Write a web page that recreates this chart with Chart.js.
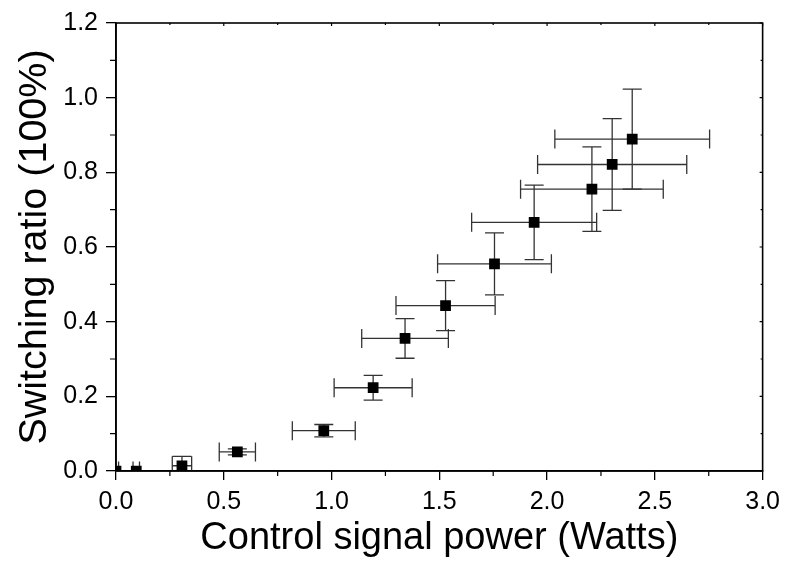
<!DOCTYPE html>
<html>
<head>
<meta charset="utf-8">
<script src="https://cdn.jsdelivr.net/npm/chart.js@4/dist/chart.umd.min.js"></script>
<style>
  html, body { margin: 0; padding: 0; background: #fff; }
  #wrap { width: 787px; height: 563px; position: relative; }
</style>
</head>
<body>
<div id="wrap"><canvas id="c" width="787" height="563"></canvas></div>
<script>
// Data
const powerW      = [0, 0.094, 0.306, 0.563, 0.964, 1.193, 1.341, 1.529, 1.756, 1.940, 2.208, 2.302, 2.395];
const switchRatio = [0, 0, 0.014, 0.051, 0.108, 0.223, 0.355, 0.443, 0.555, 0.666, 0.755, 0.821, 0.889];
const powerErr    = [0.012, 0.015, 0.045, 0.084, 0.146, 0.181, 0.201, 0.230, 0.264, 0.290, 0.331, 0.346, 0.359];
const ratioErr    = [0, 0, 0.025, 0.008, 0.0165, 0.033, 0.053, 0.067, 0.083, 0.100, 0.113, 0.123, 0.134];
const xTitle = 'Control signal power (Watts)';
const yTitle = 'Switching ratio (100%)';

const points = powerW.map((x, i) => ({ x: x, y: switchRatio[i] }));
const FONT = '"Liberation Sans", Arial, Helvetica, sans-serif';

const errorBarPlugin = {
  id: 'errorBars',
  beforeDatasetsDraw(chart) {
    const { ctx, chartArea: a, scales: { x, y } } = chart;
    const cap = 9.5;
    ctx.save();
    ctx.beginPath();
    ctx.rect(a.left, a.top, a.right - a.left, a.bottom - a.top);
    ctx.clip();
    ctx.strokeStyle = '#333';
    ctx.lineWidth = 1.3;
    powerW.forEach((v, i) => {
      const px = x.getPixelForValue(v);
      const py = y.getPixelForValue(switchRatio[i]);
      const xl = x.getPixelForValue(v - powerErr[i]);
      const xr = x.getPixelForValue(v + powerErr[i]);
      const yt = y.getPixelForValue(switchRatio[i] + ratioErr[i]);
      const yb = y.getPixelForValue(switchRatio[i] - ratioErr[i]);
      ctx.beginPath();
      ctx.moveTo(xl, py); ctx.lineTo(xr, py);
      ctx.moveTo(xl, py - cap); ctx.lineTo(xl, py + cap);
      ctx.moveTo(xr, py - cap); ctx.lineTo(xr, py + cap);
      if (ratioErr[i] > 0) {
        ctx.moveTo(px, yt); ctx.lineTo(px, yb);
        ctx.moveTo(px - cap, yt); ctx.lineTo(px + cap, yt);
        ctx.moveTo(px - cap, yb); ctx.lineTo(px + cap, yb);
      }
      ctx.stroke();
    });
    ctx.restore();
  }
};

const framePlugin = {
  id: 'frame',
  afterDraw(chart) {
    const { ctx, chartArea: a, scales: { x, y } } = chart;
    ctx.save();
    ctx.strokeStyle = '#000';
    ctx.lineWidth = 1.6;
    ctx.strokeRect(a.left, a.top, a.right - a.left, a.bottom - a.top);
    ctx.lineWidth = 1.2;
    ctx.beginPath();
    // minor ticks x (outward on bottom, inward on top)
    for (let k = 0; k <= 12; k++) {
      const v = k * 0.25;
      const px = x.getPixelForValue(v);
      if (k % 2 === 1) { ctx.moveTo(px, a.bottom); ctx.lineTo(px, a.bottom + 5); }
      ctx.moveTo(px, a.top); ctx.lineTo(px, a.top + (k % 2 ? 2 : 3));
    }
    // minor ticks y (outward on left, inward on right)
    for (let k = 0; k <= 12; k++) {
      const v = k * 0.1;
      const py = y.getPixelForValue(v);
      if (k % 2 === 1) { ctx.moveTo(a.left, py); ctx.lineTo(a.left - 6, py); }
      ctx.moveTo(a.right, py); ctx.lineTo(a.right - (k % 2 ? 2 : 3), py);
    }
    ctx.stroke();
    ctx.restore();
  }
};

new Chart(document.getElementById('c'), {
  type: 'scatter',
  data: {
    datasets: [{
      data: points,
      pointStyle: 'rect',
      pointRadius: 7.6,
      pointHoverRadius: 7.6,
      pointBackgroundColor: '#000',
      pointBorderWidth: 0,
      showLine: false
    }]
  },
  options: {
    responsive: false,
    animation: false,
    events: [],
    layout: { padding: { top: 20, right: 23, left: 0, bottom: 0 } },
    plugins: { legend: { display: false }, tooltip: { enabled: false } },
    scales: {
      x: {
        type: 'linear', min: 0, max: 3,
        afterFit(s) { s.height = 92; },
        ticks: { stepSize: 0.5, color: '#000', font: { family: FONT, size: 25 }, padding: 7,
                 callback: v => Number(v).toFixed(1), maxRotation: 0 },
        grid: { drawOnChartArea: false, drawTicks: true, tickLength: 9, color: '#000', lineWidth: 1.3 },
        border: { display: true, color: '#000', width: 1.6 },
        title: { display: true, text: xTitle, color: '#000', font: { family: FONT, size: 38 }, padding: { top: 0, bottom: 2 } }
      },
      y: {
        type: 'linear', min: 0, max: 1.2,
        afterFit(s) { s.width = 116; },
        ticks: { stepSize: 0.2, color: '#000', font: { family: FONT, size: 25 }, padding: 8,
                 callback: v => Number(v).toFixed(1) },
        grid: { drawOnChartArea: false, drawTicks: true, tickLength: 10, color: '#000', lineWidth: 1.3 },
        border: { display: true, color: '#000', width: 1.6 },
        title: { display: true, text: yTitle, color: '#000', font: { family: FONT, size: 39.5 }, padding: { top: 11, bottom: 0 } }
      }
    }
  },
  plugins: [errorBarPlugin, framePlugin]
});
</script>
</body>
</html>
